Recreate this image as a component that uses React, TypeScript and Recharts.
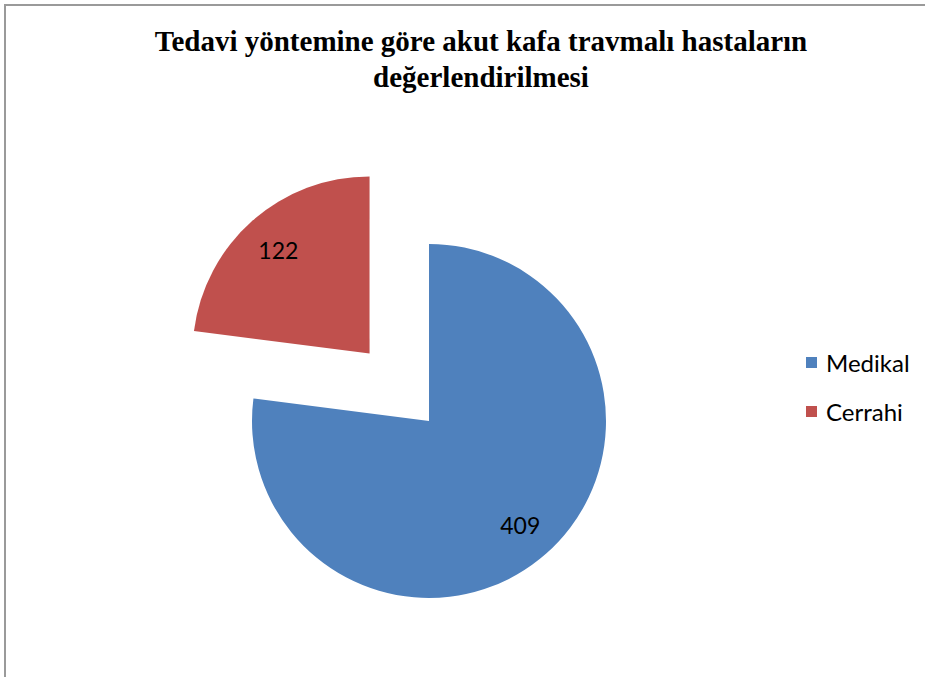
import { PieChart, Pie, Cell, Legend } from 'recharts'

const TITLE_LINES = ['Tedavi yöntemine göre akut kafa travmalı hastaların', 'değerlendirilmesi']
const CATEGORIES = ['Medikal', 'Cerrahi']
const COUNTS = [409, 122]
const COLORS = ['#4F81BD', '#C0504D']

const data = CATEGORIES.map((name, i) => ({ name, value: COUNTS[i] }))

const W = 925
const H = 677
const CX = 429
const CY = 421
const R = 177
const EXPLODE = 90
const START = 90
const END = -270

// mid angle of the exploded slice (Cerrahi), same convention as recharts
const total = COUNTS.reduce((a, b) => a + b, 0)
const cerrahiStart = START - (COUNTS[0] / total) * 360
const cerrahiMid = cerrahiStart - ((COUNTS[1] / total) * 360) / 2
const RAD = Math.PI / 180
const dx = Math.cos(cerrahiMid * RAD) * EXPLODE
const dy = -Math.sin(cerrahiMid * RAD) * EXPLODE

const LABEL_FONT = 'Lato, "Open Sans", sans-serif'

function makeLabel(show: number) {
  return (props: any) => {
    if (props.index !== show) return null
    const r = props.outerRadius * 0.78
    const x = props.cx + Math.cos(-props.midAngle * RAD) * r
    const y = props.cy + Math.sin(-props.midAngle * RAD) * r
    return (
      <text
        x={x}
        y={y}
        textAnchor="middle"
        dominantBaseline="central"
        fill="#000"
        fontSize={23}
        fontFamily={LABEL_FONT}
      >
        {props.value}
      </text>
    )
  }
}

function LegendBox() {
  return (
    <div style={{ fontFamily: LABEL_FONT, fontSize: 24, color: '#000' }}>
      {data.map((d, i) => (
        <div
          key={d.name}
          style={{ display: 'flex', alignItems: 'center', height: 24, marginBottom: i === 0 ? 25 : 0 }}
        >
          <span
            style={{ width: 11, height: 11, background: COLORS[i], marginRight: 9, display: 'inline-block' }}
          />
          <span>{d.name}</span>
        </div>
      ))}
    </div>
  )
}

export default function App() {
  return (
    <div
      style={{
        position: 'absolute',
        left: 0,
        top: 0,
        width: W,
        height: H,
        overflow: 'hidden',
        background: '#fff',
      }}
    >
      <div
        style={{
          position: 'absolute',
          left: 4,
          top: 4,
          width: W + 20,
          height: H + 20,
          borderTop: '2px solid #9a9a9a',
          borderLeft: '2px solid #9a9a9a',
        }}
      />
      <div
        style={{
          position: 'absolute',
          left: 0,
          top: 23,
          width: 962,
          textAlign: 'center',
          fontFamily: '"Liberation Serif", "Times New Roman", serif',
          fontWeight: 'bold',
          fontSize: 29,
          lineHeight: '36px',
          color: '#000',
        }}
      >
        {TITLE_LINES.map((t) => (
          <div key={t}>{t}</div>
        ))}
      </div>
      <div style={{ position: 'absolute', left: 0, top: 0 }}>
        <PieChart width={W} height={H} margin={{ top: 0, right: 0, bottom: 0, left: 0 }}>
          <Pie
            data={data}
            dataKey="value"
            nameKey="name"
            cx={CX}
            cy={CY}
            outerRadius={R}
            startAngle={START}
            endAngle={END}
            stroke="none"
            label={makeLabel(0)}
            labelLine={false}
            isAnimationActive={false}
          >
            {data.map((d, i) => (
              <Cell key={d.name} fill={i === 0 ? COLORS[0] : 'none'} />
            ))}
          </Pie>
          <Pie
            data={data}
            dataKey="value"
            nameKey="name"
            cx={CX + dx}
            cy={CY + dy}
            outerRadius={R}
            startAngle={START}
            endAngle={END}
            stroke="none"
            label={makeLabel(1)}
            labelLine={false}
            isAnimationActive={false}
          >
            {data.map((d, i) => (
              <Cell key={d.name} fill={i === 1 ? COLORS[1] : 'none'} />
            ))}
          </Pie>
          <Legend
            content={() => <LegendBox />}
            wrapperStyle={{ position: 'absolute', left: 806, top: 350, width: 'auto' }}
          />
        </PieChart>
      </div>
    </div>
  )
}
